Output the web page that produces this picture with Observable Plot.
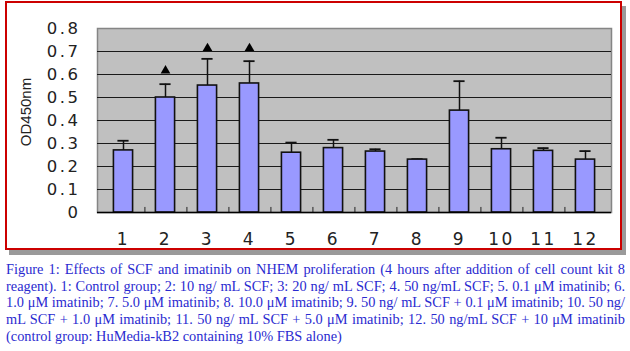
<!DOCTYPE html>
<html>
<head>
<meta charset="utf-8">
<script src="https://cdn.jsdelivr.net/npm/d3@7"></script>
<script src="https://cdn.jsdelivr.net/npm/@observablehq/plot@0.6"></script>
<style>
  html, body { margin: 0; padding: 0; background: #fff; }
  #wrap { position: relative; width: 630px; height: 351px; overflow: hidden; }
  #frame { position: absolute; left: 5px; top: 1px; width: 613px; height: 245px;
           border: 2.5px solid #cc0000; box-shadow: 4px 5px 0 #9a9a9a; background: #fff; }
  #chart { position: absolute; left: 0; top: 0; }
  #ytitle { position: absolute; left: 25px; top: 112px; transform: translate(-50%, -50%) rotate(-90deg);
            font-family: "Liberation Sans", sans-serif; font-size: 15px; color: #222; white-space: nowrap; }
  #caption { position: absolute; left: 6px; top: 261px; width: 619px;
             font-family: "Liberation Serif", serif; line-height: 16.7px; color: #2a2ad0; }
  #caption div { text-align: justify; text-align-last: justify; white-space: nowrap; }
  #caption div.last { text-align-last: left; }
</style>
</head>
<body>
<div id="wrap">
  <div id="frame"></div>
  <div id="chart"></div>
  <div id="ytitle"></div>
  <div id="caption"></div>
</div>
<script>
const groups = ["1","2","3","4","5","6","7","8","9","10","11","12"];
const means  = [0.270, 0.500, 0.552, 0.561, 0.260, 0.280, 0.265, 0.230, 0.443, 0.275, 0.268, 0.230];
const upper  = [0.312, 0.558, 0.668, 0.658, 0.304, 0.316, 0.275, 0.232, 0.571, 0.325, 0.280, 0.267];
const markGroups = ["2","3","4"];
const markY      = [0.617, 0.714, 0.714];
const yTicks = [0, 0.1, 0.2, 0.3, 0.4, 0.5, 0.6, 0.7, 0.8];
const yTickLabels = ["0","0.1","0.2","0.3","0.4","0.5","0.6","0.7","0.8"];
const yTitle = "OD450nm";
const captionLines = [
  "Figure 1: Effects of SCF and imatinib on NHEM proliferation (4 hours after addition of cell count kit 8",
  "reagent). 1: Control group; 2: 10 ng/ mL SCF; 3: 20 ng/ mL SCF; 4. 50 ng/mL SCF; 5. 0.1 μM imatinib; 6.",
  "1.0 μM imatinib; 7. 5.0 μM imatinib; 8. 10.0 μM imatinib; 9. 50 ng/ mL SCF + 0.1 μM imatinib; 10. 50 ng/",
  "mL SCF + 1.0 μM imatinib; 11. 50 ng/ mL SCF + 5.0 μM imatinib; 12. 50 ng/mL SCF + 10 μM imatinib",
  "(control group: HuMedia-kB2 containing 10% FBS alone)"
];

const data = groups.map((g, i) => ({g, mean: means[i], upper: upper[i]}));
const marks = markGroups.map((g, i) => ({g, y: markY[i]}));
const boundaries = groups.slice(0, -1);

const W = 630, H = 251;
const mL = 97, mR = 19, mT = 28, mB = 39;
const bw = (W - mL - mR) / groups.length;

const plot = Plot.plot({
  width: W, height: H,
  marginLeft: mL, marginRight: mR, marginTop: mT, marginBottom: mB,
  style: {background: "transparent", overflow: "visible"},
  x: {type: "band", domain: groups, padding: 0, align: 0.5},
  y: {domain: [0, 0.8]},
  marks: [
    Plot.frame({fill: "#c0c0c0", stroke: "#858585", strokeWidth: 1.5}),
    Plot.gridY(yTicks.slice(1, -1), {stroke: "#1a1a1a", strokeOpacity: 1, strokeWidth: 1}),
    Plot.ruleX(boundaries, {x: d => d, dx: bw / 2, y1: 0, y2: 0.022, stroke: "#222", strokeWidth: 1}),
    Plot.ruleX(data, {x: "g", y1: "mean", y2: "upper", stroke: "#111", strokeWidth: 1.5}),
    Plot.tickY(data, {x: "g", y: "upper", stroke: "#111", strokeWidth: 1.8, insetLeft: bw / 2 - 6, insetRight: bw / 2 - 6}),
    Plot.barY(data, {x: "g", y: "mean", fill: "#9999ff", stroke: "#111", strokeWidth: 1.6, insetLeft: bw / 2 - 10, insetRight: bw / 2 - 10}),
    Plot.dot(marks, {x: "g", y: "y", symbol: "triangle", r: 3.6, fill: "#000", stroke: "none"}),
    Plot.ruleY([0], {stroke: "#000", strokeWidth: 1.5}),
    Plot.axisY(yTicks, {
      tickSize: 0, tickPadding: 17, label: null,
      tickFormat: d => yTickLabels[yTicks.indexOf(d)],
      fontSize: 16.5, fontFamily: "DejaVu Sans", fill: "#222"
    }),
    Plot.axisX({
      tickSize: 0, tickPadding: 20, label: null,
      fontSize: 17, fontFamily: "DejaVu Sans", fill: "#222"
    })
  ]
});
plot.querySelectorAll("g[aria-label='y-axis tick label'] text, g[aria-label='x-axis tick label'] text").forEach(t => {
  t.setAttribute("letter-spacing", "2.5");
});
document.getElementById("chart").appendChild(plot);
document.getElementById("ytitle").textContent = yTitle;

// caption: pick the largest font size at which every line fits the width, then justify
const cap = document.getElementById("caption");
const ctx = document.createElement("canvas").getContext("2d");
ctx.font = '100px "Liberation Serif"';
const maxW = Math.max(...captionLines.slice(0, -1).map(l => ctx.measureText(l).width)) / 100;
const fs = Math.min(14.5, 617 / maxW);
cap.style.fontSize = fs + "px";
captionLines.forEach((line, i) => {
  const div = document.createElement("div");
  div.textContent = line;
  if (i === captionLines.length - 1) div.className = "last";
  cap.appendChild(div);
});
</script>
</body>
</html>
